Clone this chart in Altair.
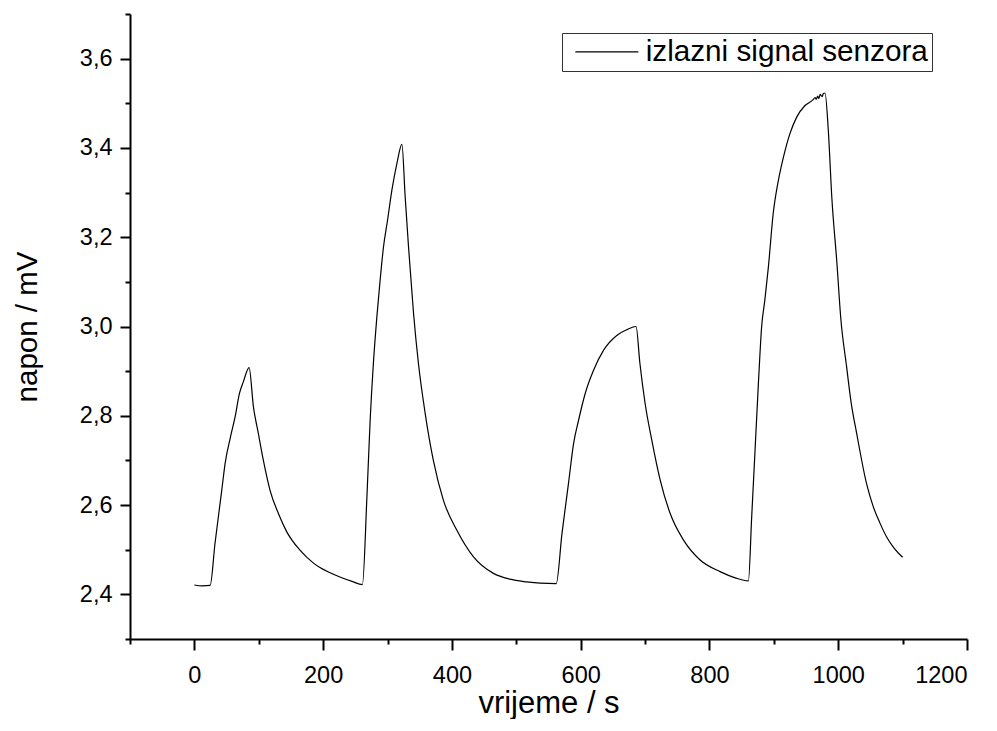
import altair as alt
import pandas as pd

time_s = [0, 12, 24.5, 32, 42.5, 47.7, 55.5, 63.3, 70, 76, 85, 91.7, 99.4, 107, 117.5,
          130.5, 143.5, 164, 185, 195, 210, 226, 245, 261, 268, 273, 278, 283.4, 288.5,
          293.7, 300, 306.7, 314.5, 322.3, 327.4, 332.6, 340.4, 348, 358.5, 371, 386.7,
          407.5, 433.5, 464.5, 490, 516, 537, 562, 571, 581, 589, 596.7, 607, 620, 635.6,
          656, 672, 686, 692, 700, 710.5, 723.5, 739, 759.5, 785.5, 816.5, 840, 860.5,
          865.6, 870.8, 876, 881, 886, 891.5, 899, 907, 915, 925, 935.5, 948.4, 961, 964,
          966, 968, 970, 972, 975, 977, 979.5, 984.6, 990, 998, 1004, 1013, 1020, 1028.7,
          1044, 1054.5, 1065, 1075, 1087, 1100]
napon_mV = [2.421, 2.419, 2.420, 2.514, 2.633, 2.693, 2.749, 2.798, 2.850, 2.876, 2.908,
            2.820, 2.760, 2.701, 2.633, 2.581, 2.540, 2.499, 2.470, 2.460, 2.449, 2.439,
            2.429, 2.422, 2.619, 2.790, 2.917, 3.021, 3.104, 3.178, 3.238, 3.305, 3.365,
            3.408, 3.290, 3.178, 3.029, 2.917, 2.805, 2.701, 2.611, 2.544, 2.484, 2.447,
            2.434, 2.428, 2.425, 2.424, 2.537, 2.648, 2.738, 2.790, 2.850, 2.902, 2.947,
            2.980, 2.993, 3.000, 2.917, 2.828, 2.745, 2.656, 2.581, 2.522, 2.477, 2.451,
            2.437, 2.430, 2.574, 2.723, 2.872, 2.999, 3.059, 3.133, 3.253, 3.327, 3.380,
            3.432, 3.469, 3.495, 3.508, 3.513, 3.509, 3.516, 3.511, 3.520, 3.515, 3.522,
            3.523, 3.439, 3.290, 3.141, 3.018, 2.910, 2.830, 2.760, 2.648, 2.596, 2.559,
            2.529, 2.503, 2.483]
series_name = "izlazni signal senzora"

x_ticks = [-100, 0, 100, 200, 300, 400, 500, 600, 700, 800, 900, 1000, 1100, 1200]
y_ticks = [2.3, 2.4, 2.5, 2.6, 2.7, 2.8, 2.9, 3.0, 3.1, 3.2, 3.3, 3.4, 3.5, 3.6, 3.7]

df = pd.DataFrame({"t": time_s, "u": napon_mV, "s": [series_name] * len(time_s)})

FONT = "Liberation Sans"

x_axis = alt.Axis(
    values=x_ticks,
    title="vrijeme / s",
    labelExpr="datum.value % 200 === 0 ? datum.label : ''",
    tickSize={"condition": {"test": "datum.value % 200 === 0", "value": 11}, "value": 5},
    labelPadding=13,
    titlePadding=2,
    titleFontSize=31,
    labelOverlap=False,
    format="d",
)
y_axis = alt.Axis(
    values=y_ticks,
    title="napon / mV",
    labelExpr="round(datum.value*10) % 2 === 0 ? replace(format(datum.value, '.1f'), '.', ',') : ''",
    tickSize={"condition": {"test": "round(datum.value*10) % 2 === 0", "value": 10}, "value": 5},
    labelPadding=8,
    titlePadding=37,
    titleFontSize=29.5,
    labelOverlap=False,
)

chart = alt.Chart(df).mark_line(strokeWidth=1.2, interpolate="monotone").encode(
    x=alt.X("t:Q", scale=alt.Scale(domain=[-100, 1200], nice=False, zero=False), axis=x_axis),
    y=alt.Y("u:Q", scale=alt.Scale(domain=[2.3, 3.7], nice=False, zero=False), axis=y_axis),
    color=alt.Color(
        "s:N",
        scale=alt.Scale(range=["black"]),
        legend=alt.Legend(
            title=None,
            orient="none",
            legendX=432,
            legendY=19,
            strokeColor="#333333",
            fillColor="white",
            padding=4,
            symbolType="M-3,0H3",
            symbolSize=441,
            symbolStrokeWidth=1.2,
            symbolOffset=26,
            labelOffset=24,
            labelFontSize=29.7,
            labelFont=FONT,
            labelColor="black",
            labelLimit=500,
        ),
    ),
).properties(
    width=837,
    height=625,
    autosize=alt.AutoSizeParams(type="none"),
    padding={"left": 122, "top": 6, "right": 22, "bottom": 80},
).configure_view(
    stroke=None
).configure_axis(
    grid=False,
    domainColor="black",
    domainWidth=2,
    tickColor="black",
    tickWidth=2,
    labelFont=FONT,
    labelFontSize=23.5,
    labelColor="black",
    titleFont=FONT,
    titleFontSize=29,
    titleFontWeight="normal",
    titleColor="black",
)

chart.save("out.html", embed_options={"renderer": "svg", "actions": False})
